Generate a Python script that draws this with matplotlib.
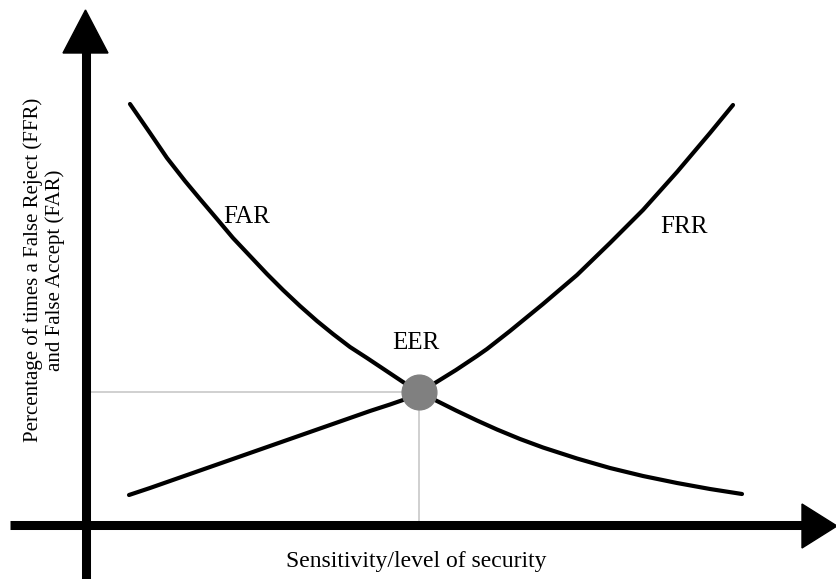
import numpy as np
import matplotlib
matplotlib.use("Agg")
import matplotlib.pyplot as plt

# Curvas (coordenadas en píxeles de la figura original)
far_x = [130, 150, 167, 185, 200, 217, 233, 250, 267, 283, 300, 317, 333, 350, 367, 385, 403, 419,
         435, 456, 477, 497, 520, 543, 577, 610, 643, 677, 710, 742]
far_y = [104, 133, 158, 181, 199, 219, 238, 256, 274, 290, 306, 321, 334, 347, 358, 370, 382, 392,
         400, 410.5, 420.5, 429.5, 439, 447.5, 458.5, 468, 476, 483, 489, 494]

frr_x = [129, 150, 170, 190, 210, 230, 250, 270, 290, 310, 330, 350, 370, 390, 403, 419,
         435, 456, 477, 487, 510, 543, 577, 610, 643, 677, 710, 733]
frr_y = [495, 488, 481, 474, 467, 460, 453, 446, 439, 432, 425, 418, 411, 404.5, 400, 392,
         383, 370, 356, 349, 331, 304, 275, 243, 210, 172, 133, 105]

eer_x, eer_y = 419, 392

etiquetas = {"FAR": (247, 217), "FRR": (684, 227), "EER": (416, 343)}
xlabel = "Sensitivity/level of security"
ylabel = "Percentage of times a False Reject (FFR)\nand False Accept (FAR)"

plt.rcParams['font.family'] = ['Liberation Serif', 'DejaVu Serif']

fig = plt.figure(figsize=(8.37, 5.79), dpi=100)
ax = fig.add_axes([0, 0, 1, 1])
ax.set_xlim(0, 837)
ax.set_ylim(579, 0)
ax.axis('off')

# Líneas guía grises hasta el EER
ax.plot([86, eer_x], [eer_y, eer_y], color='#c8c8c8', lw=1.2, zorder=1)
ax.plot([eer_x, eer_x], [eer_y, 525], color='#c8c8c8', lw=1.2, zorder=1)

# Ejes con flechas
ax.plot([86, 86], [579, 50], color='black', lw=6.5, solid_capstyle='butt', zorder=3)
ax.fill([63, 108, 85.5], [53, 53, 10], color='black', zorder=3)
ax.plot([10, 803], [525, 525], color='black', lw=6.5, solid_capstyle='butt', zorder=3)
ax.fill([802, 802, 837], [504, 548, 526], color='black', zorder=3)

# Curvas
ax.plot(far_x, far_y, color='black', lw=3, solid_capstyle='round', solid_joinstyle='round', zorder=2)
ax.plot(frr_x, frr_y, color='black', lw=3, solid_capstyle='round', solid_joinstyle='round', zorder=2)
ax.plot([eer_x], [eer_y], 'o', color='#808080', markersize=25, zorder=4)

for texto, (tx, ty) in etiquetas.items():
    ax.text(tx, ty, texto, fontsize=18, ha='center', va='center')

ax.text(416, 561, xlabel, fontsize=17, ha='center', va='center')
ax.text(44, 270, ylabel, fontsize=15, ha='center', va='center', rotation=90,
        multialignment='center', linespacing=1.2)

plt.savefig("out.png", dpi=100)
plt.close()
